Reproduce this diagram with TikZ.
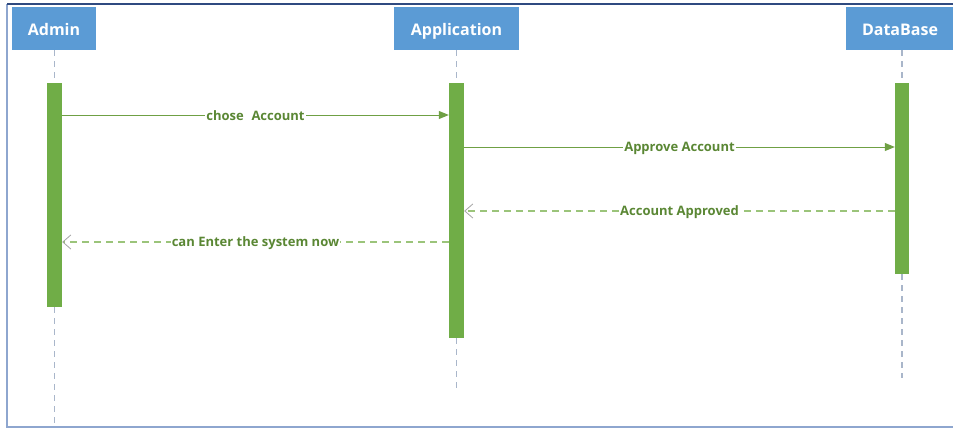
\documentclass[tikz,border=0pt]{standalone}
\usepackage{fontspec}
\setmainfont{Open Sans}
\usetikzlibrary{arrows.meta}
\definecolor{hdrblue}{HTML}{5B9BD5}
\definecolor{bargreen}{HTML}{70AD47}
\definecolor{lblgreen}{HTML}{5A8734}
\definecolor{msggreen}{HTML}{6FA044}
\definecolor{retgreen}{HTML}{9BC47A}
\definecolor{lifegrey}{HTML}{A9B6CA}
\definecolor{framenavy}{HTML}{2F4A80}
\definecolor{framelight}{HTML}{8EA6CF}
\tikzset{
  hdr/.style={draw=none, fill=hdrblue, text=white, font=\fontsize{16}{19}\selectfont\bfseries, minimum height=43pt, inner sep=0pt, text depth=0pt, text height=14pt},
  actbar/.style={draw=none, fill=bargreen, minimum width=15pt, inner sep=0pt},
  lifeln/.style={draw=lifegrey, line width=1.3pt, dash pattern=on 6pt off 5pt},
  msg/.style={draw=msggreen, line width=1pt, -{Triangle[length=10pt,width=8pt,fill=msggreen]}},
  ret/.style={draw=retgreen, line width=1.1pt, dash pattern=on 7pt off 5pt, -{Straight Barb[length=8pt,width=14pt,line width=0.8pt,color=gray!70]}},
  lbl/.style={fill=white, text=lblgreen, font=\fontsize{13}{15}\selectfont\bfseries, inner sep=1pt, yshift=-1pt}
}
\begin{document}
\begin{tikzpicture}[x=1pt,y=-1pt]
\useasboundingbox (0,0) rectangle (953,428);
\fill[white] (0,0) rectangle (953,428);
% frame
\draw[framelight, line width=1.2pt] (7,4) -- (7,427) -- (953,427);
\draw[framenavy, line width=1.4pt] (7,4) -- (953,4);
% headers
\node[hdr, minimum width=84pt] (admin) at (54,28.5) {Admin};
\node[hdr, minimum width=125pt] (app) at (456.5,28.5) {Application};
\node[hdr, minimum width=112pt] (db) at (902,28.5) {\hspace*{-4pt}DataBase};
% activation bars
\node[actbar, minimum height=224pt] (abar) at (54.5,195) {};
\node[actbar, minimum height=255pt] (pbar) at (456.5,210.5) {};
\node[actbar, minimum width=14pt, minimum height=191pt] (dbar) at (902,178.5) {};
% lifeline ends
\coordinate (aend) at (54.5,430);
\coordinate (pend) at (456.5,393);
\coordinate (dend) at (902,378);
% lifelines
\draw[lifeln] (admin.south -| abar) -- (abar.north);
\draw[lifeln] (abar.south) -- (aend);
\draw[lifeln] (app.south -| pbar) -- (pbar.north);
\draw[lifeln] (pbar.south) -- (pend);
\draw[lifeln] (db.south -| dbar) -- (dbar.north);
\draw[lifeln] (dbar.south) -- (dend);
% messages
\draw[msg] (abar.east |- 0,115) -- (pbar.west |- 0,115) node[midway, lbl] {chose\,\, Account};
\draw[msg] (pbar.east |- 0,147) -- (dbar.west |- 0,147) node[midway, lbl] {Approve Account};
\draw[ret] (dbar.west |- 0,211) -- (pbar.east |- 0,211) node[midway, lbl] {Account Approved};
\draw[ret] (pbar.west |- 0,242) -- (abar.east |- 0,242) node[midway, lbl] {can Enter the system now};
\end{tikzpicture}
\end{document}
